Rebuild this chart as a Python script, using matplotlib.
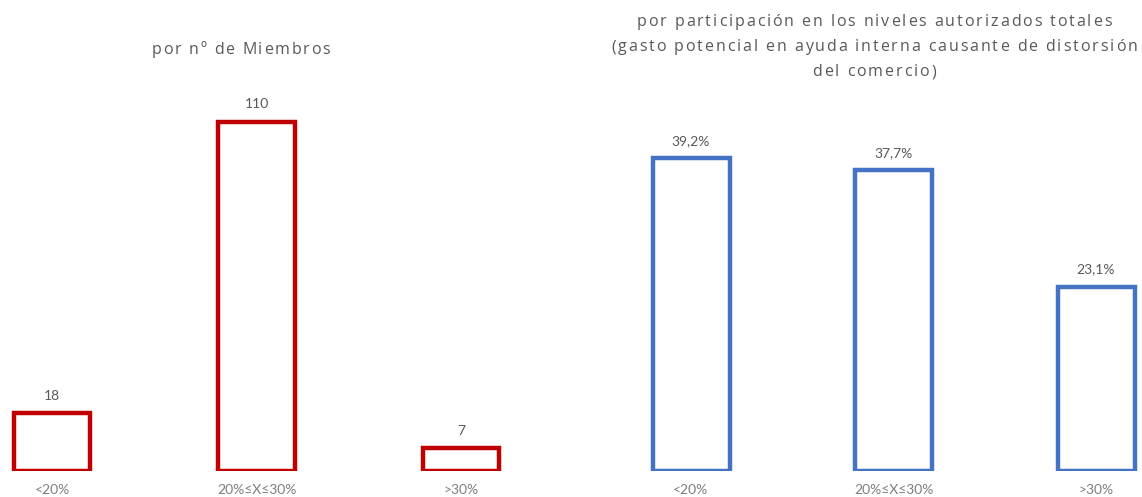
import matplotlib
matplotlib.use("Agg")
import matplotlib.pyplot as plt

categories = ["<20%", "20%≤X≤30%", ">30%"]
members = [18, 110, 7]
members_labels = ["18", "110", "7"]
share = [39.2, 37.7, 23.1]
share_labels = ["39,2%", "37,7%", "23,1%"]
title_left = ["por nº de Miembros"]
title_right = ["por participación en los niveles autorizados totales",
               "(gasto potencial en ayuda interna causante de distorsión",
               "del comercio)"]

W, H = 1142, 497
fig = plt.figure(figsize=(W / 100, H / 100), dpi=100)

base_px = 470.5
bottom = (H - base_px) / H
height = base_px / H

RED = "#C00000"
BLUE = "#4472C4"
TXT = "#595959"
TICK = "#7F7F7F"
lw = 3.2

def panel(x0, x1, centers_px, top_px, topval, vals, labels, color, width_px):
    ax = fig.add_axes([x0 / W, bottom, (x1 - x0) / W, height])
    sp = (centers_px[2] - centers_px[0]) / 2
    ax.set_xlim((x0 - centers_px[0]) / sp, (x1 - centers_px[0]) / sp)
    ppu = (base_px - top_px) / topval
    ax.set_ylim(0, base_px / ppu)
    xs = list(range(len(vals)))
    ax.bar(xs, vals, width=width_px / sp, fill=False, edgecolor=color, linewidth=lw)
    for x, v, l in zip(xs, vals, labels):
        ax.annotate(l, (x, v), xytext=(0, 8), textcoords="offset points",
                    ha="center", va="bottom", fontsize=10, color=TXT, family="Lato")
    ax.set_xticks(xs)
    ax.set_xticklabels(categories, fontsize=10, color=TICK, family="Lato")
    ax.tick_params(axis="x", length=0, pad=10)
    ax.set_yticks([])
    for s in ax.spines.values():
        s.set_visible(False)
    ax.set_facecolor("none")
    return ax

panel(0, 560, [52, 256.5, 461], 121.5, 110, members, members_labels, RED, 76.5)
panel(580, 1142, [691, 893.5, 1096], 158.5, 39.2, share, share_labels, BLUE, 77)

renderer = fig.canvas.get_renderer()
TFONT = dict(fontsize=11.5, color=TXT, family="Open Sans")

def char_w(c):
    if c == " ":
        a = fig.text(0, 0, "a a", **TFONT)
        b = fig.text(0, 0, "aa", **TFONT)
        w = a.get_window_extent(renderer).width - b.get_window_extent(renderer).width
        a.remove(); b.remove()
        return w
    t = fig.text(0, 0, c, **TFONT)
    w = t.get_window_extent(renderer).width
    t.remove()
    return w

def spaced_line(s, cx, cy, spacing):
    ws = [char_w(c) for c in s]
    total = sum(ws) + spacing * (len(s) - 1)
    x = cx - total / 2
    for c, w in zip(s, ws):
        if c != " ":
            fig.text(x / W, 1 - cy / H, c, ha="left", va="center", **TFONT)
        x += w + spacing

spaced_line(title_left[0], 241, 50, 1.75)
for i, line in enumerate(title_right):
    spaced_line(line, 874, 22 + 25 * i, 1.9)

fig.savefig("out.png", dpi=100)
